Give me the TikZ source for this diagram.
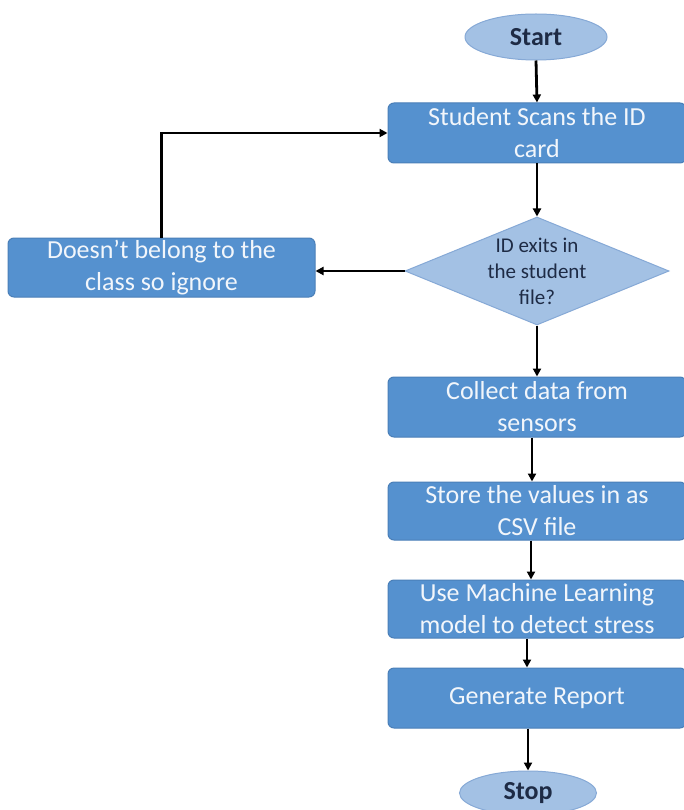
\documentclass[tikz,border=0pt]{standalone}
\usepackage{fontspec}
\setmainfont{Carlito}
\usetikzlibrary{shapes.geometric,arrows.meta}

\definecolor{boxfill}{HTML}{5591CF}
\definecolor{boxline}{HTML}{4A7FB8}
\definecolor{termfill}{HTML}{A3C1E4}
\definecolor{termline}{HTML}{86A9D6}
\definecolor{boxtext}{HTML}{F2F6FB}
\definecolor{darktext}{HTML}{1E2B45}

\tikzset{
  process/.style={draw=boxline, line width=1pt, fill=boxfill, rounded corners=6pt,
    text=boxtext, align=center, inner sep=0pt,
    font=\fontsize{26}{32}\selectfont},
  terminal/.style={ellipse, draw=termline, line width=1pt, fill=termfill,
    text=darktext, inner sep=0pt, font=\fontsize{26}{30}\selectfont\bfseries},
  decision/.style={diamond, draw=termline, line width=1pt, fill=termfill,
    text=darktext, align=center, inner sep=-20pt, shape aspect=2.44,
    font=\fontsize{21}{26}\selectfont},
  flow/.style={line width=2.8pt, draw=black,
    -{Triangle[length=8pt,width=8pt]}}
}

\begin{document}
\begin{tikzpicture}[x=1pt,y=-1pt]
  \useasboundingbox (0,0) rectangle (683,810);
  \fill[white] (0,0) rectangle (683,810);

  % terminals
  \node[terminal, minimum width=142pt, minimum height=46pt] (start) at (536,37) {Start};
  \node[terminal, minimum width=137pt, minimum height=44pt] (stop) at (528,793) {Stop};

  % process steps
  \node[process, minimum width=298pt, minimum height=60pt] (scan) at (537,133)
    {Student Scans the ID\\card};
  \node[decision, minimum width=264pt, minimum height=108pt] (check) at (537,271)
    {ID exits in\\the student\\file?};
  \node[process, minimum width=307pt, minimum height=59pt] (ignore) at (161.5,267.5)
    {Doesn’t belong to the\\class so ignore};
  \node[process, minimum width=298pt, minimum height=60pt] (collect) at (537,407)
    {Collect data from\\sensors};
  \node[process, minimum width=298pt, minimum height=58pt] (store) at (537,511)
    {Store the values in as\\CSV file};
  \node[process, minimum width=298pt, minimum height=58pt] (model) at (537,609)
    {Use Machine Learning\\model to detect stress};
  \node[process, minimum width=298pt, minimum height=60pt] (report) at (537,698)
    {Generate Report};

  % connectors
  \draw[flow] (start.south) -- (scan.north);
  \draw[flow] (scan.south) -- (check.north);
  \draw[flow] (check.west) -- (check.west -| ignore.east);
  \draw[flow] (ignore.north) |- (scan.west);
  \draw[flow] (check.south) -- (collect.north);
  \draw[flow] ([xshift=-5pt]collect.south) -- ([xshift=-5pt]store.north);
  \draw[flow] ([xshift=-6pt]store.south) -- ([xshift=-6pt]model.north);
  \draw[flow] ([xshift=-10pt]model.south) -- ([xshift=-10pt]report.north);
  \draw[flow] (stop.north |- report.south) -- (stop.north);
\end{tikzpicture}
\end{document}
